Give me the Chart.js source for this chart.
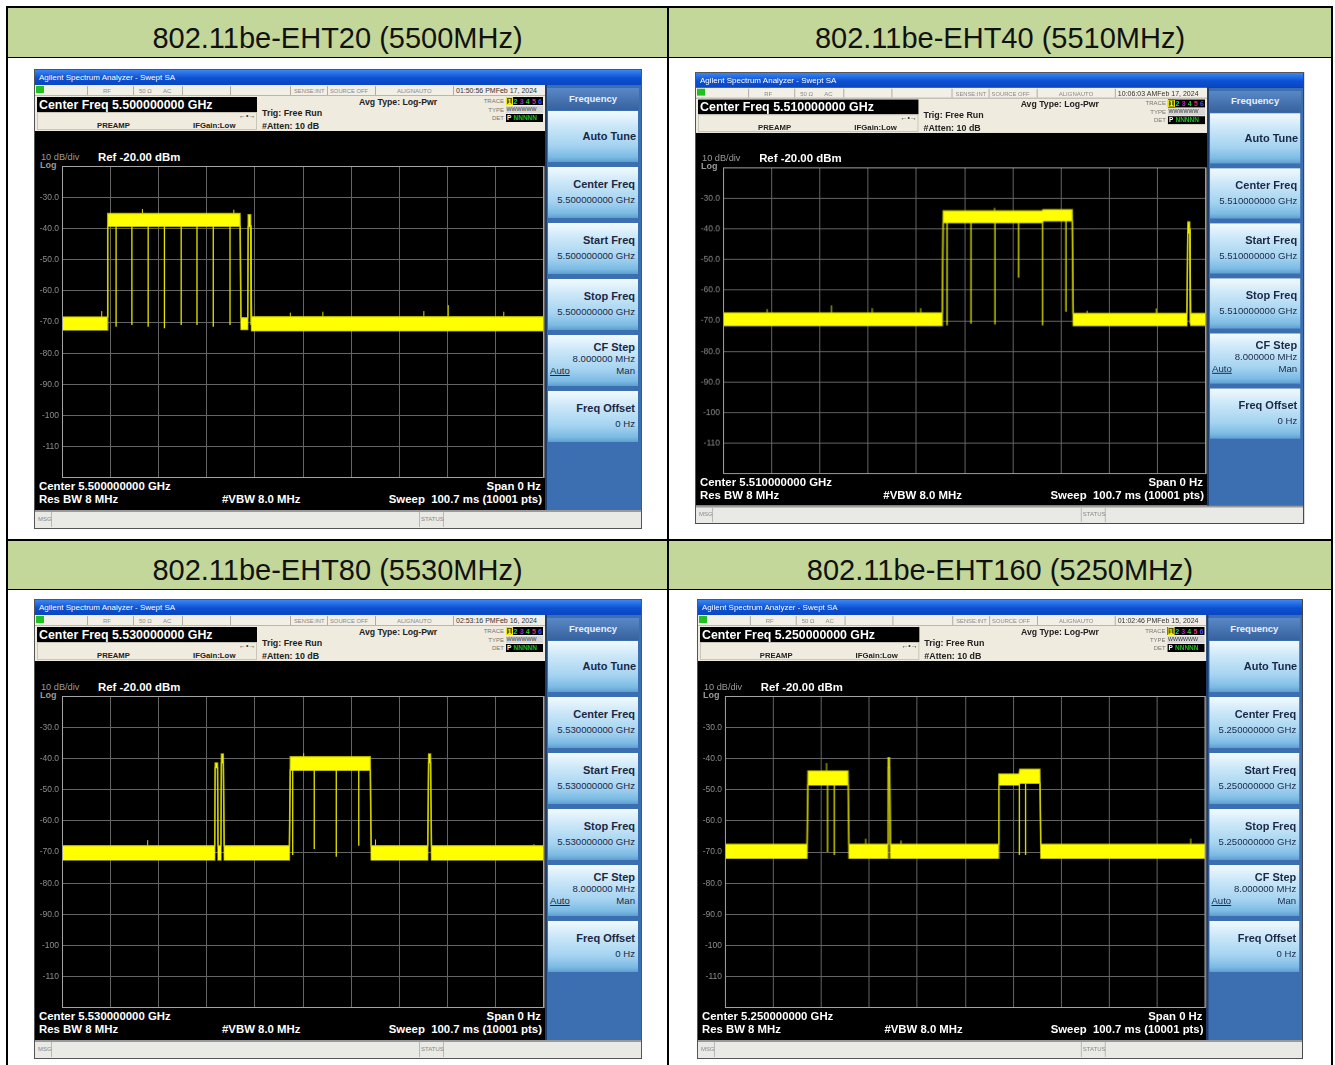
<!DOCTYPE html>
<html>
<head>
<meta charset="utf-8">
<script src="https://cdn.jsdelivr.net/npm/chart.js@4/dist/chart.umd.min.js"></script>
<style>
  body { margin: 0; background: #fff; width: 1335px; height: 1065px; overflow: hidden; position: relative;
         font-family: "Liberation Sans", Arial, sans-serif; }
  .scr { position: absolute; width: 606px; height: 458px; background: #000; transform-origin: 0 0; overflow: hidden;
         box-shadow: 0 0 0 1px #555; }
  .btn { background: linear-gradient(#f2fafe 0%, #cde8f8 28%, #a4d3f0 68%, #7cbbe4 90%, #5f9fd0 100%); }
</style>
</head>
<body>
<script>
// ================= DATA =================
const HEADERS = ["802.11be-EHT20 (5500MHz)", "802.11be-EHT40 (5510MHz)",
                 "802.11be-EHT80 (5530MHz)", "802.11be-EHT160 (5250MHz)"];
const CENTER_FREQS = ["5.500000000", "5.510000000", "5.530000000", "5.250000000"];
const TIMESTAMPS = ["01:50:56 PMFeb 17, 2024", "10:06:03 AMFeb 17, 2024",
                    "02:53:16 PMFeb 16, 2024", "01:02:46 PMFeb 15, 2024"];

const SWEEP_MS = 100.7;           // span 0 Hz, sweep time
const Y_MIN = -120, Y_MAX = -20;  // ref -20 dBm, 10 dB/div
const Y_TICK_VALUES = [-30, -40, -50, -60, -70, -80, -90, -100, -110];
const Y_TICK_LABELS = ["-30.0", "-40.0", "-50.0", "-60.0", "-70.0", "-80.0", "-90.0", "-100", "-110"];

// trace envelope: [start ms, end ms, low dBm, high dBm]
const EHT20_BAND = [
  [0, 9.45, -72.6, -68.4],
  [9.55, 37.2, -39.3, -35.2],
  [37.4, 38.8, -72.4, -68.6],
  [38.9, 39.4, -39.5, -35.6],
  [39.6, 100.7, -72.8, -68.3]
];
// short dropouts: [time ms, top dBm, bottom dBm]
const EHT20_DROPS = [
  [11.3, -39, -71.5], [14.6, -39, -71], [18.0, -39, -71.5], [21.4, -39, -72],
  [24.9, -39, -71], [28.2, -39, -71], [31.6, -39, -71.5], [35.1, -39, -71], [39.5, -39, -71]
];
// single noise peaks: [time ms, top dBm]
const EHT20_PEAKS = [
  [8.3, -66.5], [16.8, -33.8], [35.9, -34], [47.7, -67], [54.5, -66.7],
  [75.6, -66.5], [80.7, -64.6], [92.3, -66.7]
];

const EHT40_BAND = [
  [0, 45.7, -71.6, -67.4],
  [45.9, 66.5, -38.0, -34.2],
  [66.7, 72.8, -37.5, -33.8],
  [73.0, 96.7, -71.6, -67.6],
  [96.9, 97.3, -41.5, -37.8],
  [97.5, 100.7, -71.5, -67.6]
];
const EHT40_DROPS = [
  [46.7, -37, -71.5], [51.7, -38, -71], [56.7, -38, -71.2], [61.6, -38, -56],
  [66.6, -37, -71.5], [71.5, -37, -67], [97.4, -40, -71]
];
const EHT40_PEAKS = [
  [9.2, -66.2], [22.6, -65], [31.1, -65.9], [41.2, -65.9], [56.6, -33.2],
  [75.9, -66.7], [90.3, -66]
];

const EHT80_BAND = [
  [0, 31.9, -72.6, -68.0],
  [32.0, 32.5, -43.0, -41.5],
  [32.6, 33.2, -72.6, -68.0],
  [33.3, 33.7, -41.5, -38.6],
  [33.9, 47.5, -72.6, -68.0],
  [47.7, 64.4, -43.8, -39.5],
  [64.6, 76.4, -72.6, -68.0],
  [76.6, 77.0, -41.5, -38.6],
  [77.2, 100.7, -72.6, -68.0]
];
const EHT80_DROPS = [
  [48.2, -43, -71], [52.7, -43, -69], [57.3, -43, -71.5], [62.0, -43, -68]
];
const EHT80_PEAKS = [
  [17.9, -66.2], [50.5, -38.3], [65.5, -66], [98.6, -67.5]
];

const EHT160_BAND = [
  [0, 17.2, -72.0, -67.5],
  [17.4, 25.8, -48.5, -44.0],
  [26.0, 34.1, -72.0, -67.5],
  [34.2, 34.5, -43.0, -39.8],
  [34.7, 57.3, -72.0, -67.5],
  [57.4, 61.6, -48.5, -45.0],
  [61.8, 66.0, -48.0, -43.5],
  [66.2, 100.7, -72.0, -67.5]
];
const EHT160_DROPS = [
  [21.5, -48, -70], [22.9, -48, -71], [61.7, -48, -71], [63.0, -48, -71]
];
const EHT160_PEAKS = [
  [21.3, -41.5], [29.5, -65.7], [36.9, -66.3], [97.6, -65.7]
];

const TRACES = [[EHT20_BAND, EHT20_DROPS, EHT20_PEAKS], [EHT40_BAND, EHT40_DROPS, EHT40_PEAKS],
                [EHT80_BAND, EHT80_DROPS, EHT80_PEAKS], [EHT160_BAND, EHT160_DROPS, EHT160_PEAKS]];

// ================= LAYOUT =================
const SCREENS = [
  { x: 35, y: 70, sx: 1, sy: 1 },
  { x: 696, y: 73, sx: 1.002, sy: 0.983 },
  { x: 35, y: 600, sx: 1, sy: 1 },
  { x: 698, y: 600, sx: 0.997, sy: 1 }
];
const FONT = '"Liberation Sans", Arial, sans-serif';

function box(parent, x, y, w, h, css) {
  const d = document.createElement("div");
  d.style.cssText = `position:absolute;left:${x}px;top:${y}px;width:${w}px;height:${h}px;` + (css || "");
  parent.appendChild(d);
  return d;
}

// text centred vertically on yc; align "r" uses x as right edge, "c" as centre
function txt(parent, x, yc, s, size, color, bold, align) {
  const d = document.createElement("div");
  const lh = Math.round(size * 1.3);
  let pos = `left:${x}px;`;
  if (align === "r") pos = `left:${x - 400}px;width:400px;text-align:right;`;
  if (align === "c") pos = `left:${x - 400}px;width:800px;text-align:center;`;
  d.style.cssText = `position:absolute;${pos}top:${yc - lh / 2}px;line-height:${lh}px;font-size:${size}px;` +
    `color:${color};font-weight:${bold ? "bold" : "normal"};white-space:pre;`;
  d.textContent = s;
  parent.appendChild(d);
  return d;
}

// ================= TABLE =================
box(document.body, 6, 6, 1327, 2, "background:#000");
box(document.body, 6, 6, 2, 1059, "background:#000");
box(document.body, 1331, 6, 2, 1059, "background:#000");
box(document.body, 667, 6, 2, 1059, "background:#000");
[[8, 49, 0], [541, 48, 2]].forEach(([top, h, k0]) => {
  [[8, 659], [669, 662]].forEach(([left, w], i) => {
    const hd = box(document.body, left, top, w, h, "background:#c4d79b;overflow:hidden;");
    txt(hd, w / 2, h / 2 + 5, HEADERS[k0 + i], 29, "#111", false, "c");
  });
  box(document.body, 8, top + h, 1323, 1, "background:#000");
});
box(document.body, 8, 539, 1323, 2, "background:#000");

// ================= FRAME PLUGIN =================
const framePlugin = {
  id: "frame",
  afterDraw(chart) {
    const a = chart.chartArea, c = chart.ctx;
    c.save();
    c.strokeStyle = "#a4a4a4";
    c.lineWidth = 1;
    c.strokeRect(a.left + 0.5, a.top + 0.5, a.right - a.left - 1, a.bottom - a.top - 1);
    c.restore();
  }
};

// ================= SCREENS =================
const BUTTONS = [
  ["Center Freq", "freq"], ["Start Freq", "freq"], ["Stop Freq", "freq"], ["CF Step", "step"], ["Freq Offset", "0 Hz"]
];
const INK = "#1a2846";

function makeScreen(k) {
  const pos = SCREENS[k];
  const s = document.createElement("div");
  s.className = "scr";
  s.style.left = pos.x + "px";
  s.style.top = pos.y + "px";
  s.style.transform = `scale(${pos.sx}, ${pos.sy})`;
  s.style.fontFamily = FONT;
  document.body.appendChild(s);
  const gh = CENTER_FREQS[k] + " GHz";

  // title bar
  box(s, 0, 0, 606, 15, "background:linear-gradient(#3a86f4,#0c50d2 55%,#0a46c0);");
  txt(s, 4, 8, "Agilent Spectrum Analyzer - Swept SA", 8, "#fff", false);

  // status row
  box(s, 0, 15, 510, 11, "background:#f2efe6;border-bottom:1px solid #b9b6ad;box-sizing:border-box;");
  box(s, 1, 16, 8, 7, "background:#21c021;");
  [52, 98, 147, 195, 255, 292, 340, 418].forEach(x => box(s, x, 16, 1, 9, "background:#b0ada4;"));
  txt(s, 68, 20.5, "RF", 6, "#8a8a8a");
  txt(s, 104, 20.5, "50 Ω", 6, "#8a8a8a");
  txt(s, 128, 20.5, "AC", 6, "#8a8a8a");
  txt(s, 259, 20.5, "SENSE:INT", 5.8, "#8a8a8a");
  txt(s, 295, 20.5, "SOURCE OFF", 5.8, "#8a8a8a");
  txt(s, 362, 20.5, "ALIGNAUTO", 6, "#8a8a8a");
  txt(s, 421, 20.5, TIMESTAMPS[k], 7, "#333");

  // info panel
  box(s, 0, 26, 510, 35, "background:#efebdf;");
  box(s, 2, 27, 220, 15, "background:#000;");
  txt(s, 4, 34.5, "Center Freq " + gh, 12.4, "#fff", true);
  box(s, 2, 42, 220, 18, "border:1px solid #c9c5b8;box-sizing:border-box;");
  txt(s, 62, 55.5, "PREAMP", 7.7, "#222", true);
  txt(s, 158, 55.5, "IFGain:Low", 7.8, "#222", true);
  txt(s, 204, 45, "←•→", 7, "#333");
  txt(s, 227, 43, "Trig: Free Run", 8.9, "#222", true);
  txt(s, 227, 55.5, "#Atten: 10 dB", 8.9, "#222", true);
  txt(s, 324, 32, "Avg Type: Log-Pwr", 8.7, "#222", true);
  txt(s, 469, 31, "TRACE", 6, "#777", false, "r");
  txt(s, 469, 39.5, "TYPE", 6, "#777", false, "r");
  txt(s, 469, 48, "DET", 6, "#777", false, "r");
  box(s, 471, 27, 37, 8, "background:#000;");
  box(s, 471, 27, 7, 8, "background:#5a5a00;box-shadow:inset 0 0 0 1px #e8e800;");
  ["#ffff00", "#18d0b0", "#c020c0", "#30c030", "#e03070", "#4050ff"].forEach((c, i) =>
    txt(s, 472.5 + i * 6.1, 31, String(i + 1), 7, c, true));
  box(s, 471, 36, 37, 7, "background:#d6d6d6;");
  txt(s, 471.5, 39.5, "WWWWWW", 5.3, "#333");
  box(s, 471, 44, 37, 8, "background:#000;");
  txt(s, 472, 48, "P", 6.5, "#fff", true);
  txt(s, 478.5, 48, "NNNNN", 6.5, "#20c020", true);

  // plot-area texts
  txt(s, 6, 87, "10 dB/div", 9.2, "#9a9a9a");
  txt(s, 5, 95, "Log", 9, "#9a9a9a", true);
  txt(s, 63, 87, "Ref -20.00 dBm", 11.4, "#fff", true);
  txt(s, 4, 416, "Center " + gh, 11.4, "#fff", true);
  txt(s, 4, 429, "Res BW 8 MHz", 11.4, "#fff", true);
  txt(s, 187, 429, "#VBW 8.0 MHz", 11.4, "#fff", true);
  txt(s, 506, 416, "Span 0 Hz", 11.4, "#fff", true, "r");
  txt(s, 507, 429, "Sweep  100.7 ms (10001 pts)", 11.4, "#fff", true, "r");

  // message bar
  box(s, 0, 440, 606, 18, "background:#e9e9e6;border-top:2px solid #9a9a9a;box-sizing:border-box;");
  box(s, 16, 442, 1, 15, "background:#b8b8b8;");
  box(s, 384, 442, 1, 15, "background:#b8b8b8;");
  box(s, 408, 442, 1, 15, "background:#b8b8b8;");
  txt(s, 3, 449, "MSG", 6, "#888");
  txt(s, 386, 449, "STATUS", 6, "#888");

  // soft keys
  box(s, 510, 15, 96, 425, "background:#3c6eb2;border-left:2px solid #1f3f6e;box-sizing:border-box;");
  box(s, 512, 18, 92, 22, "background:linear-gradient(#5a88c6,#36629f);");
  txt(s, 558, 29, "Frequency", 9.5, "#e8f0fa", true, "c");
  box(s, 513, 41, 90, 51, "").className = "btn";
  txt(s, 601, 66, "Auto Tune", 11, INK, true, "r");
  BUTTONS.forEach(([name, val], i) => {
    const top = 97 + i * 56;
    box(s, 513, top, 90, 51, "").className = "btn";
    if (val === "step") {
      txt(s, 600, top + 12, name, 11, INK, true, "r");
      txt(s, 600, top + 24, "8.000000 MHz", 9.6, INK, false, "r");
      txt(s, 515, top + 35.5, "Auto", 9.6, INK).style.textDecoration = "underline";
      txt(s, 600, top + 35.5, "Man", 9.6, INK, false, "r");
    } else {
      txt(s, 600, top + 17, name, 11, INK, true, "r");
      txt(s, 600, top + 33, val === "freq" ? gh : val, 9.6, INK, false, "r");
    }
  });

  // chart canvas
  const cv = document.createElement("canvas");
  cv.width = 511;
  cv.height = 320;
  cv.style.cssText = "position:absolute;left:0;top:92px;width:511px;height:320px;";
  s.appendChild(cv);
  return cv;
}

function levelAt(band, t) {
  const seg = band.find(b => t >= b[0] && t <= b[1]);
  return seg ? seg[3] : band[0][3];
}

function drawTrace(canvas, band, drops, peaks) {
  const hi = [], lo = [], dl = [];
  band.forEach(b => {
    hi.push({ x: b[0], y: b[3] }, { x: b[1], y: b[3] });
    lo.push({ x: b[0], y: b[2] }, { x: b[1], y: b[2] });
  });
  drops.forEach(d => dl.push({ x: d[0], y: d[1] }, { x: d[0], y: d[2] }, { x: d[0], y: null }));
  const pk = [];
  peaks.forEach(p => pk.push({ x: p[0], y: levelAt(band, p[0]) }, { x: p[0], y: p[1] }, { x: p[0], y: null }));

  const edge = "rgba(215,215,0,0.75)";
  new Chart(canvas, {
    type: "line",
    data: {
      datasets: [
        { data: hi, fill: "+1", backgroundColor: "#ffff00", borderColor: edge, borderWidth: 1.5, pointRadius: 0 },
        { data: lo, fill: false, borderColor: edge, borderWidth: 1.5, pointRadius: 0 },
        { data: dl, fill: false, borderColor: "#e4e400", borderWidth: 1.3, pointRadius: 0, spanGaps: false },
        { data: pk, fill: false, borderColor: "#d8d800", borderWidth: 1, pointRadius: 0, spanGaps: false }
      ]
    },
    options: {
      responsive: false,
      animation: false,
      events: [],
      layout: { autoPadding: false, padding: { left: 0, right: 2, top: 4, bottom: 4 } },
      plugins: { legend: { display: false }, tooltip: { enabled: false } },
      scales: {
        x: {
          type: "linear", min: 0, max: SWEEP_MS,
          afterBuildTicks: sc => { sc.ticks = [0,1,2,3,4,5,6,7,8,9,10].map(i => ({ value: i * SWEEP_MS / 10 })); },
          afterFit: sc => { sc.height = 0; sc.paddingLeft = 0; sc.paddingRight = 0; },
          ticks: { display: false },
          grid: { color: "#656565", drawTicks: false },
          border: { display: false }
        },
        y: {
          min: Y_MIN, max: Y_MAX,
          afterBuildTicks: sc => { sc.ticks = [-120,-110,-100,-90,-80,-70,-60,-50,-40,-30,-20].map(v => ({ value: v })); },
          afterFit: sc => { sc.width = 27; sc.paddingTop = 0; sc.paddingBottom = 0; },
          ticks: {
            color: "#8e8e8e", padding: 3, font: { size: 8.5, family: FONT },
            // top and bottom lines are drawn by the frame plugin
            callback: v => { const i = Y_TICK_VALUES.indexOf(v); return i < 0 ? null : Y_TICK_LABELS[i]; }
          },
          grid: { color: "#656565", drawTicks: false },
          border: { display: false }
        }
      }
    },
    plugins: [framePlugin]
  });
}

TRACES.forEach(([band, drops, peaks], k) => drawTrace(makeScreen(k), band, drops, peaks));
</script>
</body>
</html>
